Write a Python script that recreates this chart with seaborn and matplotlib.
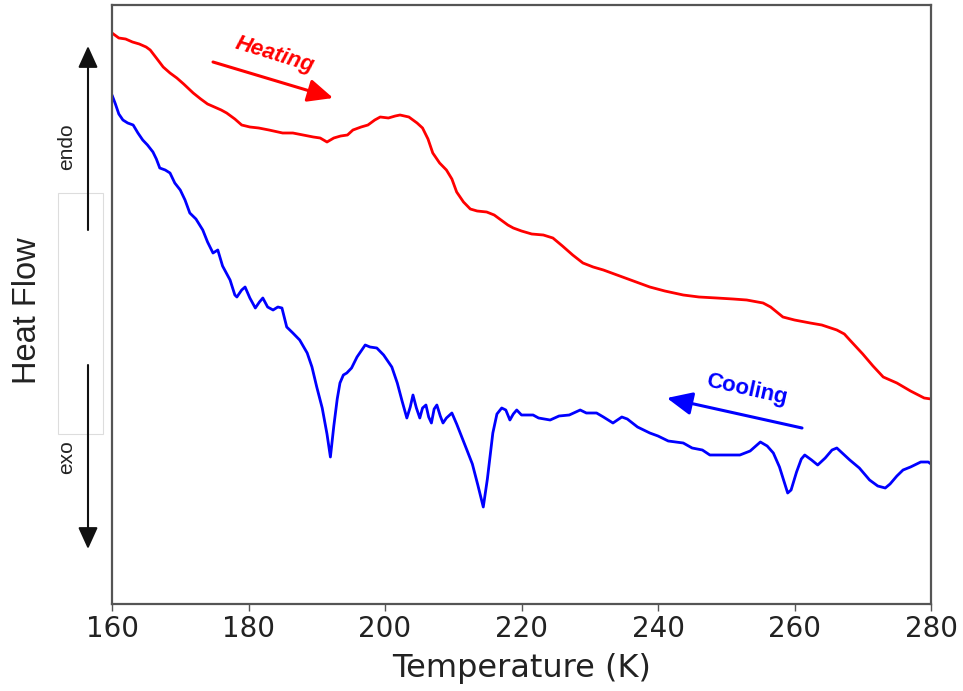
import matplotlib
matplotlib.use("Agg")
import matplotlib.pyplot as plt
import seaborn as sns
import pandas as pd
from matplotlib.patches import FancyArrowPatch, Rectangle

# ---- data (arbitrary heat-flow units) ----
heat_T = [160.0, 161.0, 162.0, 163.0, 164.0, 165.0, 165.6, 166.5, 167.5, 168.5, 169.5, 170.5,
          171.9, 173.0, 174.0, 175.0, 176.0, 176.8, 178.0, 179.0, 180.2, 181.5, 183.0, 185.0,
          186.5, 188.0, 189.5, 190.5, 191.5, 192.5, 193.5, 194.5, 195.3, 196.5, 197.5, 198.5,
          199.3, 200.5, 201.5, 202.2, 203.5, 204.7, 205.5, 206.3, 207.0, 208.0, 209.0, 209.8,
          210.5, 211.5, 212.5, 213.5, 214.9, 216.0, 217.0, 218.0, 218.8, 220.0, 221.5, 223.2,
          224.6, 226.0, 227.5, 229.0, 230.5, 232.0, 234.0, 236.0, 238.8, 241.0, 243.7, 246.0,
          248.6, 251.0, 253.0, 255.4, 256.5, 258.3, 260.0, 262.3, 264.0, 266.2, 267.3, 268.1,
          270.0, 271.5, 273.0, 275.0, 277.0, 279.0, 280.0]
heat_Q = [571, 566, 565, 562, 560, 557, 554, 546, 537, 531, 526, 520,
          511, 505, 500, 497, 494, 491, 485, 479, 477, 476, 474, 471,
          471, 469, 467, 466, 462, 466, 468, 469, 474, 477, 479, 484,
          487, 486, 488, 489, 487, 481, 476, 465, 451, 441, 434, 425,
          412, 402, 395, 393, 392, 389, 384, 379, 376, 373, 370, 369,
          366, 358, 349, 341, 337, 334, 329, 324, 317, 313, 309, 307,
          306, 305, 304, 301, 297, 287, 284, 281, 279, 274, 270, 264,
          250, 238, 227, 221, 213, 206, 205]

cool_T = [160.0, 160.5, 161.0, 161.6, 162.3, 163.1, 163.8, 164.5, 165.2, 166.0, 166.5, 167.0,
          167.8, 168.5, 169.2, 170.0, 170.7, 171.4, 172.3, 173.3, 174.0, 174.8, 175.5, 176.2,
          177.3, 178.0, 178.3, 179.0, 179.5, 180.2, 181.0, 181.6, 182.1, 182.8, 183.6, 184.3,
          184.9, 185.6, 186.5, 187.5, 188.6, 189.3, 190.0, 190.8, 191.5, 192.0, 192.5, 193.0,
          193.4, 193.9, 194.4, 195.1, 195.9, 196.5, 197.1, 197.8, 198.8, 199.8, 201.0, 201.8,
          202.5, 203.2, 203.7, 204.1, 204.6, 205.1, 205.5, 206.0, 206.4, 206.8, 207.2, 207.6,
          208.1, 208.5, 209.0, 209.8, 210.5, 211.2, 212.0, 212.8, 213.6, 214.4, 215.0, 215.8,
          216.4, 217.1, 217.7, 218.3, 218.8, 219.3, 220.0, 221.7, 222.5, 224.2, 225.5, 227.0,
          228.6, 229.5, 231.0, 232.0, 233.4, 234.7, 235.5, 237.0, 238.8, 240.0, 241.5, 243.7,
          245.0, 246.5, 247.6, 249.0, 250.5, 252.0, 253.5, 255.0, 256.0, 256.9, 257.8, 258.5,
          259.0, 259.5, 260.3, 261.0, 261.5, 262.5, 263.4, 264.5, 265.5, 266.2, 267.0, 268.1,
          269.5, 271.0, 272.2, 273.3, 274.0, 275.0, 275.9, 277.0, 278.5, 279.6, 280.0]
cool_Q = [509, 500, 490, 484, 481, 479, 471, 464, 459, 452, 445, 436,
          434, 431, 421, 414, 404, 391, 385, 374, 362, 351, 354, 338,
          324, 309, 307, 314, 317, 306, 296, 302, 306, 297, 294, 297,
          296, 277, 271, 264, 251, 237, 217, 196, 170, 147, 178, 205,
          221, 229, 231, 236, 247, 253, 259, 257, 256, 249, 237, 221,
          203, 186, 197, 209, 196, 186, 196, 199, 187, 181, 195, 199,
          188, 181, 186, 191, 180, 168, 154, 140, 119, 97, 125, 171,
          190, 196, 194, 184, 190, 194, 189, 189, 186, 184, 188, 189,
          194, 191, 191, 187, 181, 187, 185, 177, 171, 168, 163, 161,
          156, 154, 149, 149, 149, 149, 153, 162, 158, 151, 137, 122,
          111, 114, 132, 145, 149, 144, 139, 146, 154, 156, 151, 144,
          136, 124, 118, 116, 120, 128, 134, 137, 142, 142, 140]

x_ticks = [160, 180, 200, 220, 240, 260, 280]

sns.set_style("white")
plt.rcParams['font.family'] = ['DejaVu Sans']

fig = plt.figure(figsize=(9.63, 6.91), dpi=100)
ax = fig.add_axes([112/963, 1-604/691, (931-112)/963, (604-5)/691])

df_h = pd.DataFrame({"T": heat_T, "Q": heat_Q})
df_c = pd.DataFrame({"T": cool_T, "Q": cool_Q})
sns.lineplot(data=df_h, x="T", y="Q", ax=ax, color="#ff0000", lw=2.0, sort=False, estimator=None)
sns.lineplot(data=df_c, x="T", y="Q", ax=ax, color="#0000ff", lw=2.0, sort=False, estimator=None)

ax.set_xlim(160, 280)
ax.set_ylim(0, 599)
ax.set_xticks(x_ticks)
ax.set_xticklabels([str(t) for t in x_ticks], fontsize=20, color="#222222")
ax.set_yticks([])
ax.set_ylabel("")
ax.set_xlabel("Temperature (K)", fontsize=23, color="#222222", labelpad=7)
ax.tick_params(axis='x', bottom=True, length=5, width=1, color="#555555", pad=3)
for s in ax.spines.values():
    s.set_color("#555555")
    s.set_linewidth(1.6)

# annotations
ax.annotate("", xy=(192.4, 506), xytext=(174.8, 542),
            arrowprops=dict(arrowstyle="-|>,head_width=0.5,head_length=1.1", color="#ff0000",
                            lw=2.2, mutation_scale=14, shrinkA=0, shrinkB=0))
ax.text(183.9, 549, "Heating", color="#ff0000", fontsize=16, fontweight="bold", fontstyle="italic",
        family="Liberation Sans", rotation=-17, ha="center", va="center", rotation_mode="anchor")
ax.annotate("", xy=(241.3, 206), xytext=(261.1, 176),
            arrowprops=dict(arrowstyle="-|>,head_width=0.5,head_length=1.1", color="#0000ff",
                            lw=2.2, mutation_scale=14, shrinkA=0, shrinkB=0))
ax.text(253.0, 214, "Cooling", color="#0000ff", fontsize=16, fontweight="bold",
        family="Liberation Sans", rotation=-12.5, ha="center", va="center", rotation_mode="anchor")

# endo / exo indicator outside axes
fig.add_artist(Rectangle((58/963, 1-434/691), 45/963, 241/691, transform=fig.transFigure,
                         fill=False, edgecolor="#dddddd", lw=0.8))
fig.add_artist(FancyArrowPatch((88/963, 1-230/691), (88/963, 1-46/691), transform=fig.transFigure,
                               arrowstyle="-|>,head_width=0.5,head_length=1.1", mutation_scale=12,
                               color="#111111", lw=1.5, shrinkA=0, shrinkB=0))
fig.add_artist(FancyArrowPatch((88/963, 1-365/691), (88/963, 1-549/691), transform=fig.transFigure,
                               arrowstyle="-|>,head_width=0.5,head_length=1.1", mutation_scale=12,
                               color="#111111", lw=1.5, shrinkA=0, shrinkB=0))
fig.text(67/963, 1-147/691, "endo", rotation=90, ha="center", va="center", fontsize=15,
         family="Liberation Sans", color="#222222")
fig.text(67/963, 1-457/691, "exo", rotation=90, ha="center", va="center", fontsize=15,
         family="Liberation Sans", color="#222222")
fig.text(28/963, 1-311/691, "Heat Flow", rotation=90, ha="center", va="center", fontsize=23.5,
         family="Liberation Sans", color="#222222")

fig.savefig("out.png", dpi=100, facecolor="white")
